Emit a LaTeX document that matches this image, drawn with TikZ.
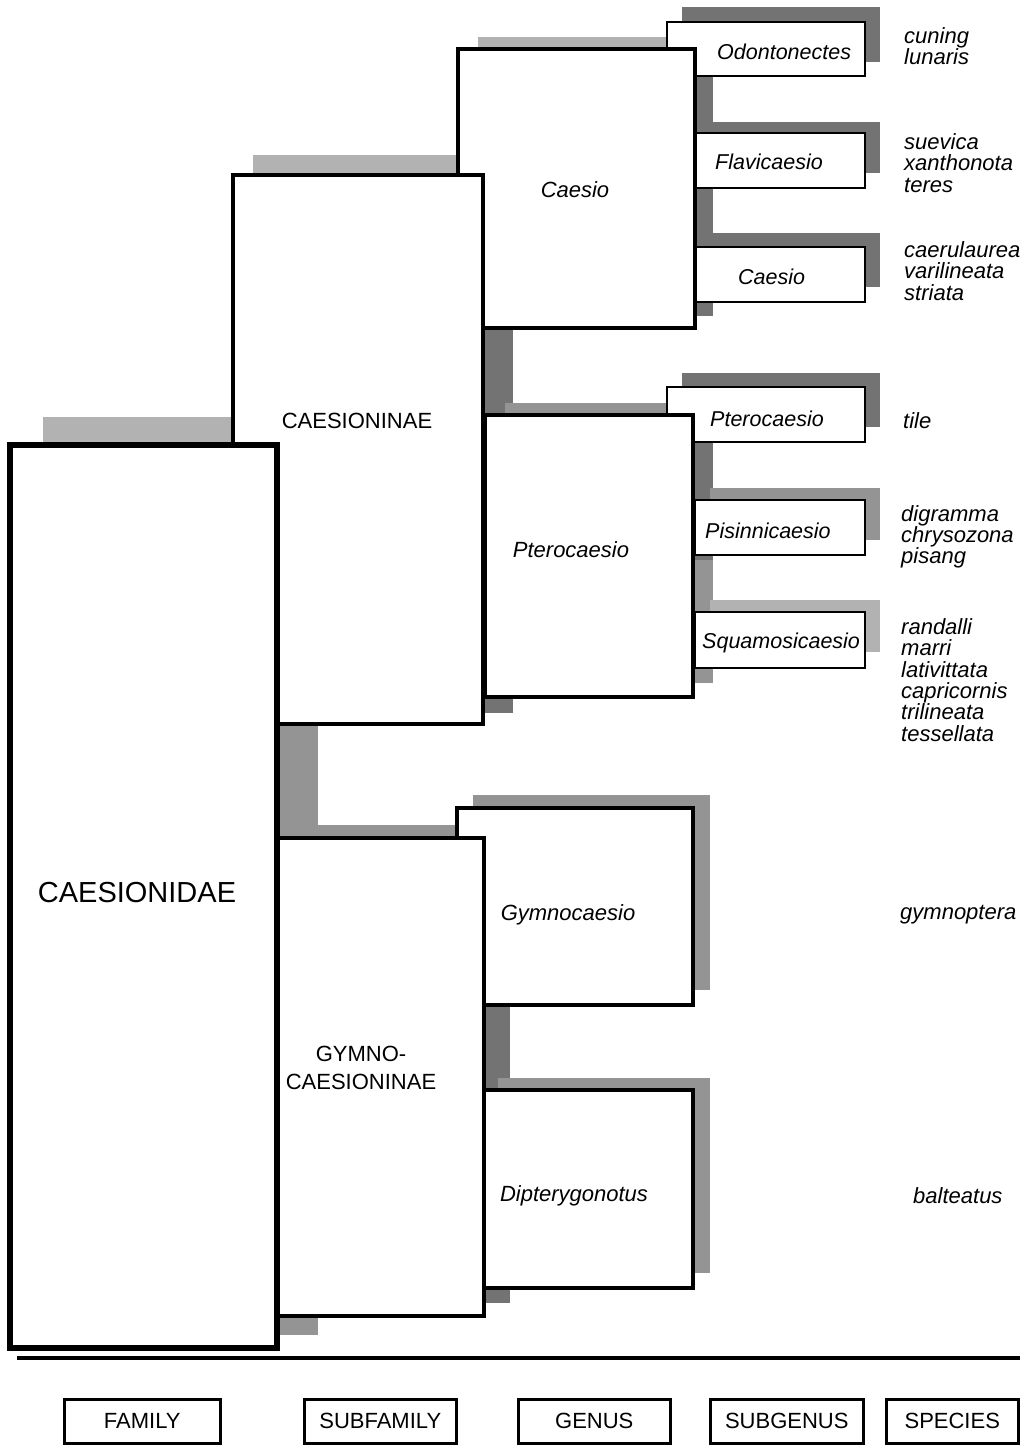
\documentclass[tikz,border=0pt]{standalone}
\usepackage{fontspec}
\setmainfont{Liberation Sans}
\begin{document}
\begin{tikzpicture}[x=1pt,y=-1pt,
  box/.style={draw=black, fill=white, inner sep=0pt, outer sep=0pt, anchor=north west},
  fambox/.style={box, line width=6pt},
  subbox/.style={box, line width=4.5pt},
  genbox/.style={box, line width=3.5pt},
  sgbox/.style={box, line width=2pt},
  legbox/.style={draw=black, fill=white, line width=2.5pt, inner sep=0pt, anchor=north west},
  shdark/.style={fill=black!55},
  shmid/.style={fill=black!42},
  shlight/.style={fill=black!30},
  caps/.style={font=\fontsize{22}{26}\selectfont, inner sep=0pt},
  gentxt/.style={font=\fontsize{22}{26}\selectfont\itshape, inner sep=0pt},
  sgtxt/.style={font=\fontsize{21.5}{26}\selectfont\itshape, inner sep=0pt, anchor=west},
  sptxt/.style={font=\fontsize{22}{21.3}\selectfont\itshape, inner sep=0pt, anchor=west, align=left},
]
\useasboundingbox (0,0) rectangle (1027,1445);
\fill[white] (0,0) rectangle (1027,1445);

% ---------- shadows ----------
% family
\fill[shlight] (43,417) rectangle (318,445);
\fill[shmid] (277,417) rectangle (318,1335);
% subfamilies
\fill[shlight] (253,155) rectangle (513,175);
\fill[shdark] (483,155) rectangle (513,713);
\fill[shmid] (304,825) rectangle (510,838);
\fill[shdark] (484,825) rectangle (510,1303);
% genera
\fill[shlight] (478,37) rectangle (713,49);
\fill[shdark] (695,37) rectangle (713,316);
\fill[shmid] (505,403) rectangle (713,415);
\fill[shdark] (693,403) rectangle (713,560);
\fill[shmid] (693,560) rectangle (713,683);
\fill[shmid] (473,795) rectangle (710,990);
\fill[shmid] (498,1078) rectangle (710,1273);
% subgenera
\fill[shdark] (682,7) rectangle (880,62);
\fill[shdark] (710,122) rectangle (880,173);
\fill[shdark] (710,233) rectangle (880,287);
\fill[shdark] (682,373) rectangle (880,427);
\fill[shmid] (710,488) rectangle (880,540);
\fill[shlight] (710,600) rectangle (880,652);

% ---------- subgenus boxes ----------
\node[sgbox, minimum width=198pt, minimum height=54pt] (sgOdo) at (667,22) {};
\node[sgbox, minimum width=170pt, minimum height=55pt] (sgFla) at (695,133) {};
\node[sgbox, minimum width=170pt, minimum height=55pt] (sgCae) at (695,247) {};
\node[sgbox, minimum width=198pt, minimum height=55pt] (sgPte) at (667,387) {};
\node[sgbox, minimum width=170pt, minimum height=55pt] (sgPis) at (695,500) {};
\node[sgbox, minimum width=170pt, minimum height=56pt] (sgSqu) at (695,612) {};

% ---------- genus boxes ----------
\node[genbox, minimum width=237pt, minimum height=279pt] (gCae) at (458,49) {};
\node[genbox, minimum width=208pt, minimum height=282pt] (gPte) at (485,415) {};
\node[genbox, minimum width=236pt, minimum height=197pt] (gGym) at (457,808) {};
\node[genbox, minimum width=211pt, minimum height=198pt] (gDip) at (482,1090) {};

% ---------- subfamily boxes ----------
\node[subbox, minimum width=250pt, minimum height=549pt] (sCae) at (233,175) {};
\node[subbox, minimum width=206pt, minimum height=478pt] (sGym) at (278,838) {};

% ---------- family box ----------
\node[fambox, minimum width=267pt, minimum height=903pt] (fam) at (10,445) {};

% ---------- labels ----------
\node[caps, font=\fontsize{29}{34}\selectfont] (tFam) at (137,893) {CAESIONIDAE};
\node[caps] (tSCae) at (357,421) {CAESIONINAE};
\node[caps, align=center, font=\fontsize{22}{28}\selectfont] (tSGym) at (361,1068) {GYMNO-\\CAESIONINAE};

\node[gentxt] (tGCae) at (575,190) {Caesio};
\node[gentxt] (tGPte) at (571,550) {Pterocaesio};
\node[gentxt] (tGGym) at (568,915) {Gymnocaesio};
\node[gentxt] (tGDip) at (574,1196) {Dipterygonotus};

\node[sgtxt] (tOdo) at (717,52) {Odontonectes};
\node[sgtxt] (tFla) at (715,162) {Flavicaesio};
\node[sgtxt] (tCae) at (738,277) {Caesio};
\node[sgtxt] (tPte) at (710,419) {Pterocaesio};
\node[sgtxt] (tPis) at (705,531) {Pisinnicaesio};
\node[sgtxt] (tSqu) at (702,643) {Squamosicaesio};

% ---------- species ----------
\node[sptxt] (spOdo) at (904,46) {cuning\\lunaris};
\node[sptxt] (spFla) at (904,163) {suevica\\xanthonota\\teres};
\node[sptxt] (spCae) at (904,271) {caerulaurea\\varilineata\\striata};
\node[sptxt] (spPte) at (903,421) {tile};
\node[sptxt] (spPis) at (901,537) {digramma\\chrysozona\\pisang};
\node[sptxt] (spSqu) at (901,680) {randalli\\marri\\lativittata\\capricornis\\trilineata\\tessellata};
\node[sptxt] (spGym) at (900,915) {gymnoptera};
\node[sptxt] (spDip) at (913,1196) {balteatus};

% ---------- base line ----------
\coordinate (lineL) at (17,1358);
\coordinate (lineR) at (1020,1358);
\draw[line width=4pt] (lineL) -- (lineR);

% ---------- legend ----------
\node[legbox, minimum width=156pt, minimum height=44pt] (lFam) at (63,1398) {};
\node[legbox, minimum width=152pt, minimum height=44pt] (lSub) at (303,1398) {};
\node[legbox, minimum width=152pt, minimum height=44pt] (lGen) at (517,1398) {};
\node[legbox, minimum width=153pt, minimum height=44pt] (lSg) at (709,1398) {};
\node[legbox, minimum width=132pt, minimum height=44pt] (lSp) at (885,1398) {};
\node[caps] at (lFam.center) {FAMILY};
\node[caps] at (lSub.center) {SUBFAMILY};
\node[caps] at (lGen.center) {GENUS};
\node[caps] at (lSg.center) {SUBGENUS};
\node[caps] at (lSp.center) {SPECIES};
\end{tikzpicture}
\end{document}
